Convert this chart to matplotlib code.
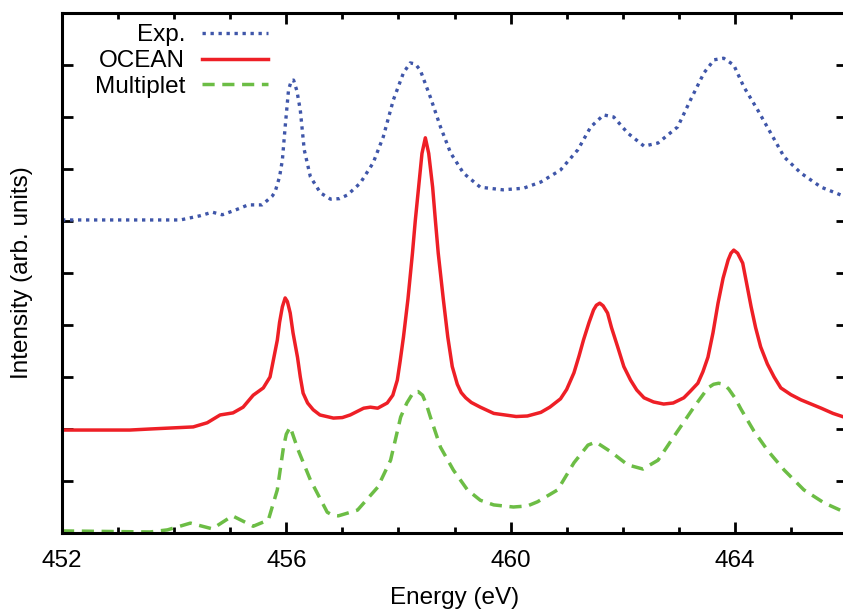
import matplotlib
matplotlib.use("Agg")
import matplotlib.pyplot as plt
from matplotlib.ticker import MultipleLocator, NullFormatter

plt.rcParams['font.family'] = ['Liberation Sans', 'DejaVu Sans']

# Experimental spectrum (offset vertically)
exp_x = [452.0, 454.11, 454.46, 454.68, 454.86, 455.09, 455.32, 455.57, 455.75, 455.80,
         455.88, 455.93, 455.98, 456.04, 456.09, 456.13, 456.19, 456.25, 456.32, 456.43,
         456.61, 456.79, 456.95, 457.09, 457.32, 457.55, 457.73, 457.91, 458.09, 458.21,
         458.30, 458.39, 458.57, 458.75, 458.93, 459.16, 459.46, 459.86, 460.23, 460.54,
         460.89, 461.20, 461.43, 461.66, 461.84, 462.09, 462.38, 462.63, 462.98, 463.21,
         463.45, 463.63, 463.80, 463.98, 464.16, 464.41, 464.64, 464.88, 465.18, 465.54,
         465.89, 466.0]
exp_y = [6.02, 6.02, 6.10, 6.17, 6.12, 6.21, 6.31, 6.31, 6.48, 6.56,
         6.85, 7.17, 7.81, 8.52, 8.70, 8.71, 8.50, 8.13, 7.37, 6.85,
         6.54, 6.42, 6.43, 6.50, 6.73, 7.12, 7.62, 8.33, 8.85, 9.04,
         9.02, 8.90, 8.38, 7.81, 7.31, 6.92, 6.65, 6.60, 6.63, 6.75,
         6.98, 7.37, 7.81, 8.04, 8.00, 7.69, 7.44, 7.50, 7.81, 8.33,
         8.85, 9.10, 9.13, 9.00, 8.58, 8.13, 7.69, 7.23, 6.92, 6.65,
         6.50, 6.47]

# OCEAN calculation
ocean_x = [452.0, 453.21, 453.57, 454.34, 454.59, 454.82, 455.05, 455.23, 455.41, 455.59,
           455.71, 455.84, 455.88, 455.93, 455.98, 456.02, 456.07, 456.12, 456.20, 456.25,
           456.30, 456.38, 456.48, 456.60, 456.84, 457.00, 457.14, 457.38, 457.50, 457.63,
           457.80, 457.90, 457.98, 458.03, 458.09, 458.17, 458.25, 458.30, 458.36, 458.42,
           458.48, 458.54, 458.61, 458.66, 458.71, 458.80, 458.88, 458.96, 459.05, 459.12,
           459.20, 459.30, 459.46, 459.70, 460.10, 460.30, 460.54, 460.70, 460.89, 461.00,
           461.13, 461.22, 461.30, 461.40, 461.48, 461.53, 461.59, 461.65, 461.73, 461.80,
           461.91, 462.02, 462.14, 462.25, 462.38, 462.55, 462.73, 462.90, 463.09, 463.20,
           463.34, 463.43, 463.52, 463.61, 463.70, 463.79, 463.88, 463.93, 463.98, 464.05,
           464.14, 464.21, 464.29, 464.37, 464.46, 464.58, 464.70, 464.82, 465.00, 465.18,
           465.54, 465.75, 466.0]
ocean_y = [1.98, 1.98, 2.00, 2.04, 2.12, 2.27, 2.31, 2.42, 2.65, 2.79,
           3.00, 3.71, 4.05, 4.35, 4.52, 4.45, 4.23, 3.85, 3.38, 3.00,
           2.69, 2.50, 2.37, 2.27, 2.21, 2.22, 2.27, 2.40, 2.42, 2.40,
           2.50, 2.65, 2.94, 3.30, 3.77, 4.50, 5.38, 6.00, 6.65, 7.30,
           7.60, 7.30, 6.65, 6.00, 5.38, 4.50, 3.77, 3.20, 2.86, 2.70,
           2.60, 2.51, 2.42, 2.30, 2.24, 2.25, 2.32, 2.42, 2.58, 2.76,
           3.08, 3.40, 3.71, 4.05, 4.29, 4.38, 4.42, 4.37, 4.23, 3.95,
           3.58, 3.20, 2.94, 2.75, 2.60, 2.52, 2.48, 2.50, 2.60, 2.72,
           2.88, 3.10, 3.38, 3.85, 4.42, 4.90, 5.25, 5.38, 5.44, 5.38,
           5.19, 4.80, 4.35, 3.95, 3.58, 3.25, 3.00, 2.79, 2.66, 2.56,
           2.40, 2.30, 2.21]

# Multiplet calculation
mult_x = [452.0, 453.57, 453.88, 454.29, 454.68, 455.04, 455.41, 455.68, 455.84, 455.95,
          456.00, 456.07, 456.13, 456.21, 456.43, 456.73, 456.83, 456.93, 457.27, 457.63,
          457.86, 458.04, 458.15, 458.27, 458.35, 458.43, 458.50, 458.57, 458.75, 458.98,
          459.23, 459.46, 459.70, 460.05, 460.30, 460.48, 460.84, 461.13, 461.38, 461.52,
          461.79, 462.09, 462.36, 462.63, 462.91, 463.27, 463.52, 463.62, 463.71, 463.80,
          463.89, 464.00, 464.11, 464.34, 464.59, 464.88, 465.23, 465.59, 466.0]
mult_y = [0.04, 0.02, 0.06, 0.19, 0.08, 0.33, 0.13, 0.25, 0.83, 1.65,
          1.90, 2.04, 1.85, 1.60, 1.02, 0.40, 0.34, 0.33, 0.44, 0.88,
          1.40, 2.23, 2.50, 2.71, 2.72, 2.65, 2.47, 2.23, 1.65, 1.21,
          0.83, 0.63, 0.54, 0.50, 0.52, 0.60, 0.83, 1.35, 1.69, 1.75,
          1.56, 1.31, 1.23, 1.40, 1.85, 2.42, 2.79, 2.86, 2.88, 2.86,
          2.77, 2.60, 2.38, 1.96, 1.58, 1.21, 0.83, 0.58, 0.38]

labels = ["Exp.", "OCEAN", "Multiplet"]
x_ticks = [452, 456, 460, 464]

fig = plt.figure(figsize=(8.43, 6.09), dpi=100)
ax = fig.add_axes([62/843, 76/609, 785/843, 520/609])

ax.plot(exp_x, exp_y, color='#3f56a9', lw=2.4, linestyle=(0, (1.0, 1.4)), label=labels[0])
ax.plot(ocean_x, ocean_y, color='#ee1f26', lw=2.5, label=labels[1])
ax.plot(mult_x, mult_y, color='#6cbd45', lw=2.5, linestyle=(0, (3.5, 2.2)), label=labels[2])

ax.set_xlim(452, 466)
ax.set_ylim(0, 10)
ax.set_xticks(x_ticks)
ax.xaxis.set_minor_locator(MultipleLocator(1))
ax.yaxis.set_major_locator(MultipleLocator(1))
ax.yaxis.set_major_formatter(NullFormatter())
ax.tick_params(which='both', direction='in', top=True, right=True, width=2)
ax.tick_params(which='major', length=8, labelsize=17.5, pad=12)
ax.tick_params(which='minor', length=4)
for s in ax.spines.values():
    s.set_linewidth(2.2)

ax.set_xlabel("Energy (eV)", fontsize=17.5, labelpad=11)
ax.set_ylabel("Intensity (arb. units)", fontsize=17.5, labelpad=9)

leg = ax.legend(loc='upper right', bbox_to_anchor=(0.262, 0.978), markerfirst=False,
                frameon=False, fontsize=17.5, handlelength=2.7, handletextpad=0.7,
                labelspacing=0.15, borderpad=0, borderaxespad=0)

fig.savefig("out.png", dpi=100)
